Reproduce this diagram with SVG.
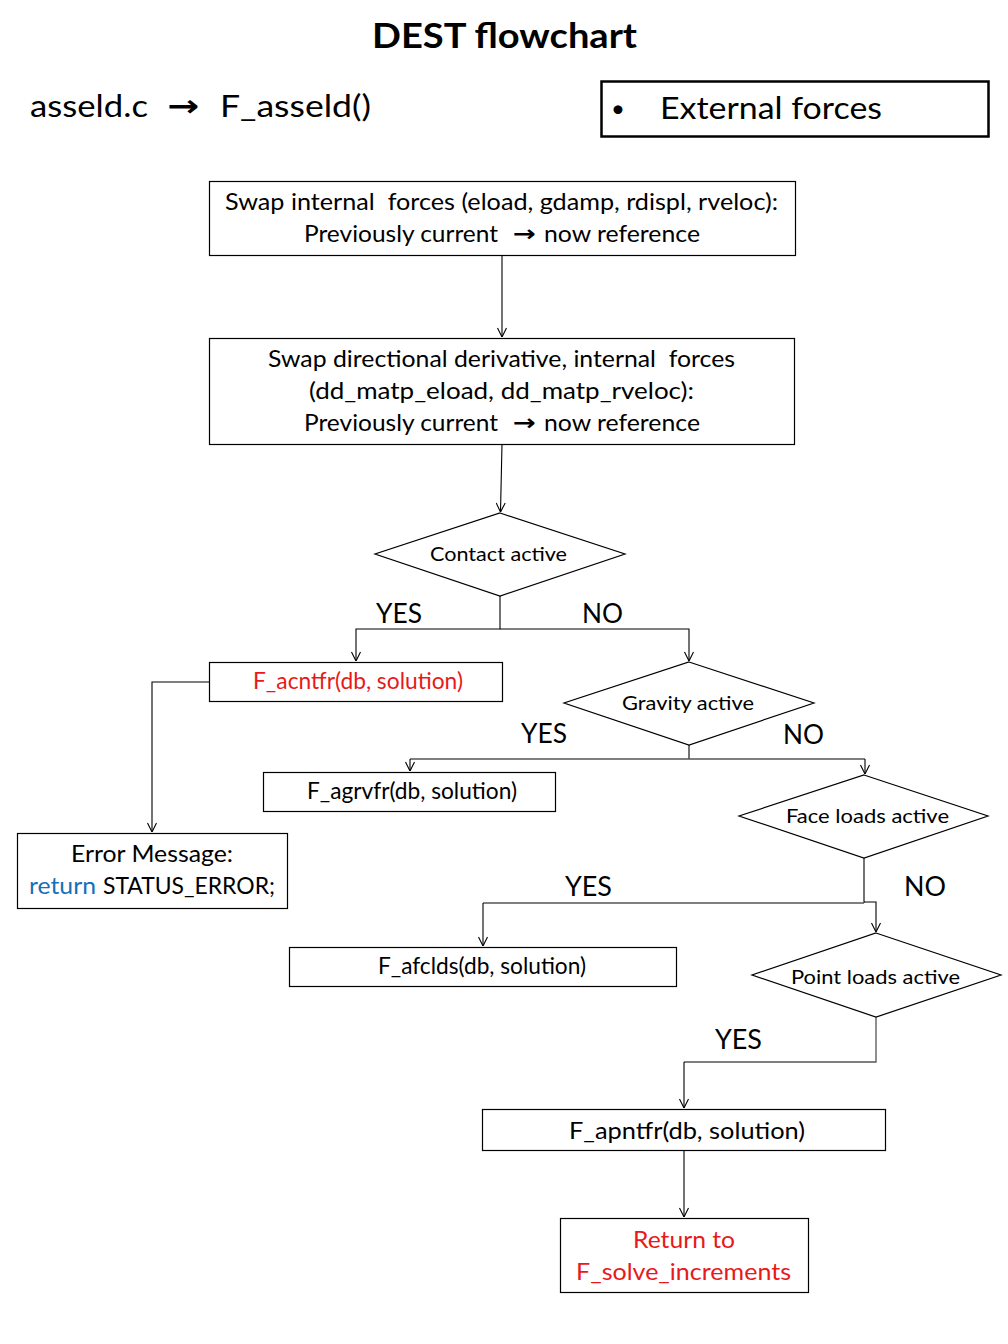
<svg xmlns="http://www.w3.org/2000/svg" width="1008" height="1344" viewBox="0 0 1008 1344">
<defs>
<style>
text{font-family:Lato,"Liberation Sans",sans-serif;fill:#000}
.t{font-size:23px;text-anchor:middle}
.d{font-size:20px;text-anchor:middle}
.lbl{font-size:26px;text-anchor:middle}
.red{fill:#E81919}
.blue{fill:#1570B8}
.box{fill:#fff;stroke:#000;stroke-width:1.2}
.c{fill:none;stroke:#000;stroke-width:1.1}
.g{fill:none;stroke:#555;stroke-width:1.3}
</style>
<marker id="ah" viewBox="0 0 10 10" refX="10" refY="5" markerWidth="10" markerHeight="10" markerUnits="userSpaceOnUse" orient="auto">
<path d="M1,0.5 L10,5 L1,9.5" fill="none" stroke="#000" stroke-width="1.1"/>
</marker>
</defs>
<rect width="1008" height="1344" fill="#fff"/>

<g id="header">
<text x="504.5" y="48" font-size="35" font-weight="bold" text-anchor="middle" textLength="265" lengthAdjust="spacingAndGlyphs">DEST flowchart</text>
<text x="30" y="117" font-size="30" textLength="118" lengthAdjust="spacingAndGlyphs">asseld.c</text>
<text x="167" y="116" font-size="30" font-weight="bold" style="font-family:'DejaVu Sans',sans-serif" textLength="32" lengthAdjust="spacingAndGlyphs">→</text>
<text x="220" y="117" font-size="30" textLength="151" lengthAdjust="spacingAndGlyphs">F_asseld()</text>
</g>

<g id="external">
<rect x="601.5" y="81.5" width="387" height="55" fill="#fff" stroke="#000" stroke-width="2.5"/>
<text x="611" y="117" font-size="24">•</text>
<text x="660" y="119" font-size="30" textLength="222" lengthAdjust="spacingAndGlyphs">External forces</text>
</g>

<g id="connectors">
<line class="c" x1="502" y1="255" x2="502" y2="337" marker-end="url(#ah)"/>
<line class="c" x1="502" y1="444" x2="500.5" y2="512" marker-end="url(#ah)"/>
<polyline class="c" points="500,596 500,629 356,629 356,661" marker-end="url(#ah)"/>
<polyline class="c" points="500,629 689,629 689,661" marker-end="url(#ah)"/>
<polyline class="c" points="209,682 152,682 152,832" marker-end="url(#ah)"/>
<line class="c" x1="689" y1="745" x2="689" y2="759"/>
<polyline class="g" points="689,759 410,759"/>
<line class="c" x1="410" y1="759" x2="410" y2="771" marker-end="url(#ah)"/>
<polyline class="g" points="689,759 865,759"/>
<line class="c" x1="865" y1="759" x2="865" y2="774" marker-end="url(#ah)"/>
<line class="c" x1="864" y1="858" x2="864" y2="903"/>
<polyline class="g" points="864,903 483,903"/>
<line class="c" x1="483" y1="903" x2="483" y2="946" marker-end="url(#ah)"/>
<polyline class="c" points="864,902 876,902 876,932" marker-end="url(#ah)"/>
<polyline class="g" points="876,1017 876,1062 684,1062"/>
<line class="c" x1="684" y1="1062" x2="684" y2="1108" marker-end="url(#ah)"/>
<line class="c" x1="684" y1="1150" x2="684" y2="1217" marker-end="url(#ah)"/>
</g>

<g id="labels">
<text class="lbl" x="399" y="623" textLength="46" lengthAdjust="spacingAndGlyphs">YES</text>
<text class="lbl" x="602.5" y="623" textLength="41" lengthAdjust="spacingAndGlyphs">NO</text>
<text class="lbl" x="544" y="743" textLength="46" lengthAdjust="spacingAndGlyphs">YES</text>
<text class="lbl" x="803.5" y="744" textLength="41" lengthAdjust="spacingAndGlyphs">NO</text>
<text class="lbl" x="588.5" y="896" textLength="47" lengthAdjust="spacingAndGlyphs">YES</text>
<text class="lbl" x="925" y="896" textLength="42" lengthAdjust="spacingAndGlyphs">NO</text>
<text class="lbl" x="738.5" y="1049" textLength="47" lengthAdjust="spacingAndGlyphs">YES</text>
</g>

<g id="swap1">
<rect class="box" x="209.5" y="181.5" width="586" height="74"/>
<text class="t" x="501.5" y="210" textLength="553" lengthAdjust="spacingAndGlyphs" xml:space="preserve">Swap internal  forces (eload, gdamp, rdispl, rveloc):</text>
<text x="304" y="242" font-size="23" textLength="194" lengthAdjust="spacingAndGlyphs">Previously current</text>
<text x="513" y="241" font-size="22" font-weight="bold" style="font-family:'DejaVu Sans',sans-serif" textLength="23" lengthAdjust="spacingAndGlyphs">→</text>
<text x="544" y="242" font-size="23" textLength="156" lengthAdjust="spacingAndGlyphs">now reference</text>
</g>

<g id="swap2">
<rect class="box" x="209.5" y="338.5" width="585" height="106"/>
<text class="t" x="501.5" y="367" textLength="467" lengthAdjust="spacingAndGlyphs" xml:space="preserve">Swap directional derivative, internal  forces</text>
<text class="t" x="501.5" y="399" textLength="385" lengthAdjust="spacingAndGlyphs">(dd_matp_eload, dd_matp_rveloc):</text>
<text x="304" y="431" font-size="23" textLength="194" lengthAdjust="spacingAndGlyphs">Previously current</text>
<text x="513" y="430" font-size="22" font-weight="bold" style="font-family:'DejaVu Sans',sans-serif" textLength="23" lengthAdjust="spacingAndGlyphs">→</text>
<text x="544" y="431" font-size="23" textLength="156" lengthAdjust="spacingAndGlyphs">now reference</text>
</g>

<g id="contact">
<polygon class="box" points="500,513 625,554 500,596 375,554"/>
<text class="d" x="498.5" y="561" textLength="137" lengthAdjust="spacingAndGlyphs">Contact active</text>
</g>

<g id="acntfr">
<rect class="box" x="209.5" y="662.5" width="293" height="39"/>
<text class="t red" x="358" y="689" font-size="21" textLength="210" lengthAdjust="spacingAndGlyphs">F_acntfr(db, solution)</text>
</g>

<g id="error">
<rect class="box" x="17.5" y="833.5" width="270" height="75"/>
<text class="t" x="152" y="862" textLength="162" lengthAdjust="spacingAndGlyphs">Error Message:</text>
<text x="29" y="894" font-size="23"><tspan class="blue" textLength="67" lengthAdjust="spacingAndGlyphs">return</tspan></text>
<text x="103" y="894" font-size="23" textLength="172" lengthAdjust="spacingAndGlyphs">STATUS_ERROR;</text>
</g>

<g id="gravity">
<polygon class="box" points="689,662 814,703 689,745 564,703"/>
<text class="d" x="688" y="710" textLength="132" lengthAdjust="spacingAndGlyphs">Gravity active</text>
</g>

<g id="agrvfr">
<rect class="box" x="263.5" y="772.5" width="292" height="39"/>
<text class="t" x="412" y="799" font-size="21" textLength="210" lengthAdjust="spacingAndGlyphs">F_agrvfr(db, solution)</text>
</g>

<g id="face">
<polygon class="box" points="864,775 988,816 864,858 739,816"/>
<text class="d" x="867.5" y="823" textLength="163" lengthAdjust="spacingAndGlyphs">Face loads active</text>
</g>

<g id="afclds">
<rect class="box" x="289.5" y="947.5" width="387" height="39"/>
<text class="t" x="482" y="974" font-size="21" textLength="208" lengthAdjust="spacingAndGlyphs">F_afclds(db, solution)</text>
</g>

<g id="point">
<polygon class="box" points="876,933 1001,975 876,1017 752,975"/>
<text class="d" x="875.5" y="984" textLength="169" lengthAdjust="spacingAndGlyphs">Point loads active</text>
</g>

<g id="apntfr">
<rect class="box" x="482.5" y="1109.5" width="403" height="41"/>
<text class="t" x="687" y="1139" font-size="25" textLength="236" lengthAdjust="spacingAndGlyphs">F_apntfr(db, solution)</text>
</g>

<g id="return">
<rect class="box" x="560.5" y="1218.5" width="248" height="74"/>
<text class="t red" x="684" y="1248" textLength="102" lengthAdjust="spacingAndGlyphs">Return to</text>
<text class="t red" x="683.5" y="1280" textLength="215" lengthAdjust="spacingAndGlyphs">F_solve_increments</text>
</g>
</svg>
